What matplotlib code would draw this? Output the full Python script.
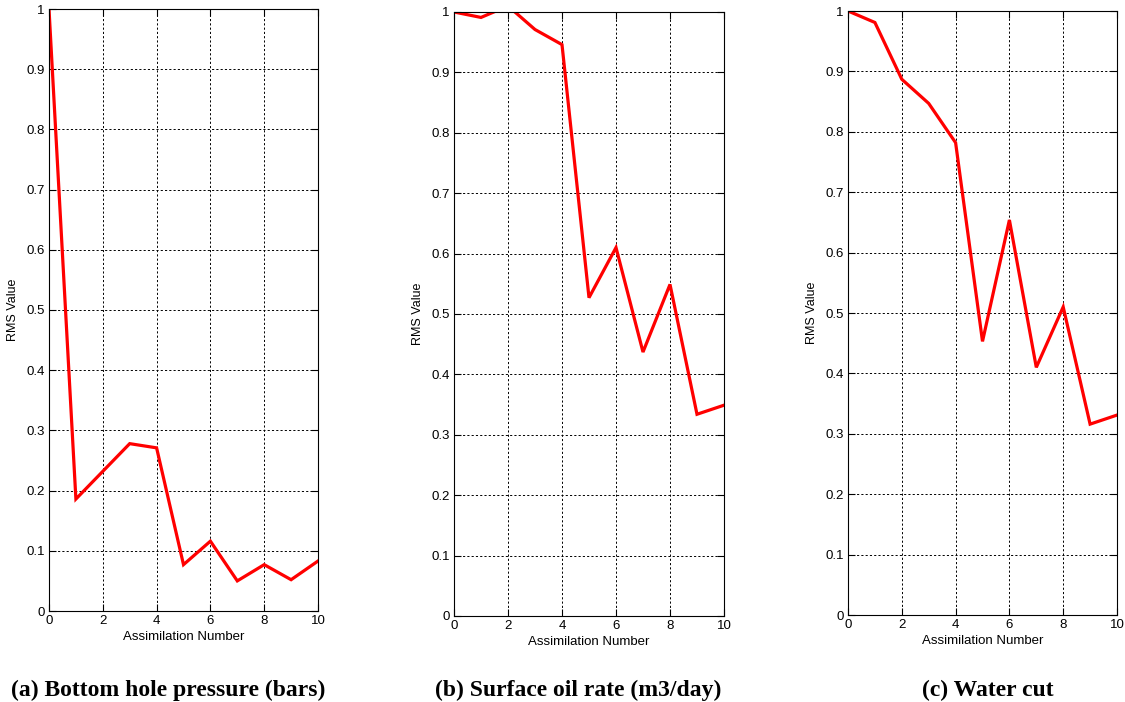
import numpy as np
import matplotlib.pyplot as plt

# ------------------------------------------------------------------
# RMS values per assimilation step
# ------------------------------------------------------------------
assim = np.arange(0, 11)
rms_bhp = [1.0, 0.186, 0.232, 0.278, 0.271, 0.077, 0.116, 0.050, 0.077, 0.052, 0.083]
rms_oil = [1.0, 0.991, 1.010, 0.971, 0.946, 0.527, 0.610, 0.437, 0.549, 0.334, 0.349]
rms_wct = [1.0, 0.981, 0.887, 0.847, 0.782, 0.453, 0.654, 0.410, 0.510, 0.316, 0.331]

series = [rms_bhp, rms_oil, rms_wct]
captions = [
    "(a) Bottom hole pressure (bars)",
    "(b) Surface oil rate (m3/day)",
    "(c) Water cut",
]
x_ticks = [0, 2, 4, 6, 8, 10]
y_ticks = np.round(np.arange(0, 1.01, 0.1), 1)
y_ticklabels = ["0"] + ["%.1f" % v for v in y_ticks[1:-1]] + ["1"]

# axes rectangles in figure fraction (left, bottom, width, height)
W, H = 1125.0, 702.0
rects = [
    (49 / W, 1 - 611 / H, 269 / W, 602 / H),
    (454 / W, 1 - 616 / H, 270 / W, 604 / H),
    (848 / W, 1 - 615 / H, 269 / W, 604 / H),
]
caption_x = [168 / W, 578 / W, 988 / W]

plt.rcParams["font.family"] = ["Liberation Sans", "DejaVu Sans"]
fontsize = 9.5

fig = plt.figure(figsize=(W / 100, H / 100), dpi=100)
fig.patch.set_facecolor("white")

for i, vals in enumerate(series):
    ax = fig.add_axes(rects[i])
    ax.plot(assim, vals, color="red", linewidth=2.3, solid_joinstyle="miter")
    ax.set_xlim(0, 10)
    ax.set_ylim(0, 1)
    ax.set_xticks(x_ticks)
    ax.set_yticks(y_ticks)
    ax.set_yticklabels(y_ticklabels)
    ax.tick_params(
        direction="in",
        length=5,
        width=0.8,
        top=True,
        right=True,
        labelsize=fontsize,
        colors="black",
        pad=3,
    )
    ax.grid(True, color="black", linestyle=(0, (2.2, 2.2)), linewidth=0.7)
    for s in ax.spines.values():
        s.set_linewidth(0.8)
        s.set_color("black")
    ax.set_xlabel("Assimilation Number", fontsize=fontsize, labelpad=3)
    ax.set_ylabel("RMS Value", fontsize=fontsize - 0.5, labelpad=5)
    fig.text(
        caption_x[i],
        1 - 690 / H,
        captions[i],
        family=["Liberation Serif", "DejaVu Serif"],
        fontweight="bold",
        fontsize=17,
        ha="center",
        va="center",
    )

plt.savefig("out.png", dpi=100)
